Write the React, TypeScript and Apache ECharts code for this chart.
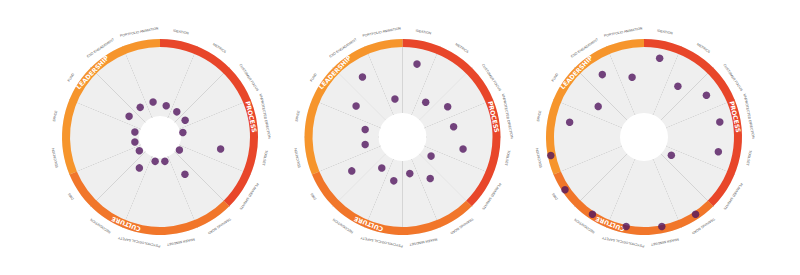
import React, { useEffect, useRef } from 'react';
import * as echarts from 'echarts';

// ---- data ----
const categories = [
  'IDEATION',
  'METRICS',
  'CUSTOMER FOCUS',
  'UNPROTECTED DIRECTION',
  'TOOLSET',
  'PLANNED SPRINTS',
  'TRAINING ROAD',
  'MAKER MINDSET',
  'PSYCHOLOGICAL SAFETY',
  'RECOGNITION',
  'DMS',
  'EDUCATION',
  'SPACE',
  'FUND',
  'CXO ENGAGEMENT',
  'PORTFOLIO ANIMATION',
];
const pillars = ['PROCESS', 'CULTURE', 'LEADERSHIP'];
const pillarSpans = [6, 5, 5];
const scoresA = [1.4, 1.2, 1.2, 0.3, 5.3, 0.3, 3.1, 0.5, 0.5, 2.1, 0.5, 0.6, 0.6, 2.1, 1.9, 1.9];
const scoresB = [6.8, 2.4, 4.1, 3.8, 5.1, 1.4, 3.5, 1.8, 2.8, 1.8, 5.0, 1.9, 1.9, 4.3, 6.5, 2.0];
const scoresC = [7.6, 5.0, 6.9, 7.2, 7.0, 1.2, 9.3, 9.1, 9.1, 9.3, 9.6, 9.6, 7.0, 4.2, 6.9, 5.0];
const scoreMax = 10;

// ---- layout / style ----
const CENTERS_X = [160, 402.5, 644];
const CENTER_Y = 137;
const HOLE_R = [21, 24, 24];
const OUTER_R = 98;
const RING_W = 8;
const PILLAR_COLORS = ['#e8462a', '#f1762a', '#f6952c'];
const PILLAR_LABEL_OFFSET_DEG = 10;
const DOT_COLOR = '#52165f';

export default function App() {
  const ref = useRef<HTMLDivElement>(null);

  useEffect(() => {
    if (!ref.current) return;
    const chart = echarts.init(ref.current, null, { renderer: 'svg' });
    const datasets = [scoresA, scoresB, scoresC];
    const polar: any[] = [];
    const angleAxis: any[] = [];
    const radiusAxis: any[] = [];
    const series: any[] = [];
    const sectorDeg = 360 / categories.length;

    datasets.forEach((scores, k) => {
      const center = [CENTERS_X[k], CENTER_Y];
      polar.push({ center, radius: [HOLE_R[k], OUTER_R] });
      angleAxis.push({
        polarIndex: k,
        type: 'category',
        data: categories,
        startAngle: 90,
        clockwise: true,
        boundaryGap: true,
        axisLine: { show: false },
        axisTick: { show: false },
        axisLabel: { show: false },
        splitLine: { show: true, interval: 0, lineStyle: { color: '#848484', width: 1 } },
        splitArea: { show: true, interval: 0, areaStyle: { color: ['#efefef', '#efefef'] } },
      });
      radiusAxis.push({
        polarIndex: k,
        type: 'value',
        min: 0,
        max: scoreMax,
        axisLine: { show: false },
        axisTick: { show: false },
        axisLabel: { show: false },
        splitLine: { show: false },
        splitArea: { show: false },
      });

      // outer pillar ring
      series.push({
        type: 'pie',
        silent: true,
        center,
        radius: [OUTER_R - RING_W, OUTER_R],
        startAngle: 90,
        clockwise: true,
        label: { show: false },
        labelLine: { show: false },
        emphasis: { disabled: true },
        z: 3,
        data: pillars.map((p, i) => ({
          name: p,
          value: pillarSpans[i],
          itemStyle: { color: PILLAR_COLORS[i], borderWidth: 0 },
        })),
      });

      // pillar labels on the ring
      series.push({
        type: 'custom',
        coordinateSystem: 'polar',
        polarIndex: k,
        silent: true,
        z: 4,
        data: pillars.map((p, i) => [scoreMax, i]),
        renderItem: (params: any, api: any) => {
          const cs = params.coordSys;
          const i = params.dataIndex;
          let start = 0;
          for (let j = 0; j < i; j++) start += pillarSpans[j];
          const midDeg = (start + pillarSpans[i] / 2) * sectorDeg + PILLAR_LABEL_OFFSET_DEG;
          const ang = (midDeg * Math.PI) / 180;
          const r = cs.r - RING_W / 2 - 0.3;
          return {
            type: 'text',
            x: cs.cx + r * Math.sin(ang),
            y: cs.cy - r * Math.cos(ang),
            rotation: -ang,
            style: {
              text: pillars[i],
              fontSize: 6.2,
              fontWeight: 'bold',
              fontFamily: 'DejaVu Sans',
              fill: '#ffffff',
              align: 'center',
              verticalAlign: 'middle',
            },
          };
        },
      });

      // category labels around the circle
      series.push({
        type: 'custom',
        coordinateSystem: 'polar',
        polarIndex: k,
        silent: true,
        z: 4,
        data: categories.map((c, i) => [scoreMax, i]),
        renderItem: (params: any, api: any) => {
          const cs = params.coordSys;
          const p = api.coord([scoreMax, api.value(1)]);
          const ang = Math.atan2(p[0] - cs.cx, -(p[1] - cs.cy));
          const r = cs.r + 9;
          return {
            type: 'text',
            x: cs.cx + r * Math.sin(ang),
            y: cs.cy - r * Math.cos(ang),
            rotation: -ang,
            style: {
              text: categories[params.dataIndex],
              fontSize: 3.4,
              fontFamily: 'Liberation Sans',
              fill: '#505050',
              align: 'center',
              verticalAlign: 'middle',
            },
          };
        },
      });

      // score dots
      series.push({
        type: 'scatter',
        coordinateSystem: 'polar',
        polarIndex: k,
        silent: true,
        symbolSize: 7.5,
        itemStyle: { color: DOT_COLOR },
        z: 5,
        data: scores.map((v, i) => [v, i]),
      });
    });

    chart.setOption({
      animation: false,
      backgroundColor: '#ffffff',
      polar,
      angleAxis,
      radiusAxis,
      series,
    });

    return () => chart.dispose();
  }, []);

  return (
    <div
      ref={ref}
      style={{ position: 'fixed', left: 0, top: 0, width: 800, height: 275, background: '#fff' }}
    />
  );
}
